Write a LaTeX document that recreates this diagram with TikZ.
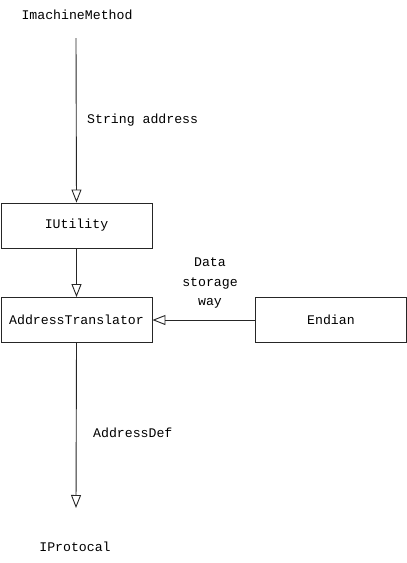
\documentclass[tikz,border=0pt]{standalone}
\usepackage{fontspec}
\setmainfont{Liberation Mono}
\usetikzlibrary{arrows.meta}
\begin{document}
\begin{tikzpicture}[x=1pt,y=-1pt,
  txt/.style={inner sep=0pt,font=\fontsize{13.2}{19.5}\selectfont},
  box/.style={draw=black!85,line width=0.9pt,minimum width=151pt,minimum height=45pt,inner sep=0pt,font=\fontsize{13.2}{19.5}\selectfont},
  arr/.style={draw=black!85,line width=0.9pt,-{Triangle[open,length=13pt,width=10pt]}}]
\useasboundingbox (0,0) rectangle (407,563);
\node[txt] (top) at (77,15) {ImachineMethod};
\node[box] (util) at (76.5,225.5) {IUtility};
\node[box] (addr) at (76.5,320) {AddressTranslator};
\node[box] (endian) at (331,320) {Endian};
\node[txt] (bot) at (75,547) {IProtocal};
\coordinate (s) at (76,38);
\coordinate (e) at (76,508);
\draw[arr] (s) -- (util.north);
\draw[arr] (util.south) -- (addr.north);
\draw[arr] (endian.west) -- (addr.east);
\draw[arr] (addr.south) -- (e);
\node[txt,anchor=west] (l1) at (87,120) {String address};
\node[txt,anchor=west] (l2) at (93,433) {AddressDef};
\node[txt,align=center] (l3) at (210,283) {Data\\storage\\way};
\end{tikzpicture}
\end{document}
